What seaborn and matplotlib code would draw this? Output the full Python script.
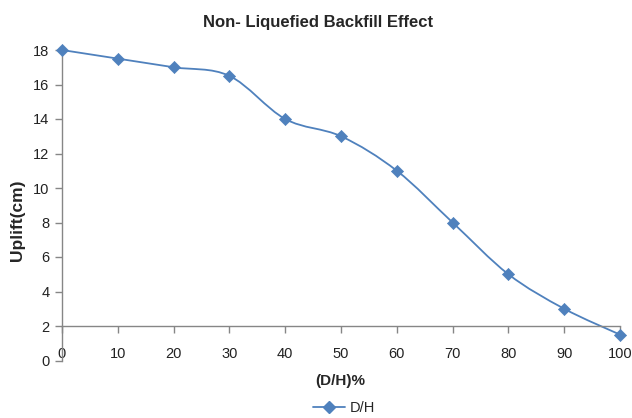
import numpy as np
import matplotlib
matplotlib.use("Agg")
import matplotlib.pyplot as plt
from matplotlib.path import Path
from matplotlib.patches import PathPatch
from matplotlib.lines import Line2D
import seaborn as sns
import pandas as pd

# Data
dh_percent = [0, 10, 20, 30, 40, 50, 60, 70, 80, 90, 100]
uplift_cm = [18, 17.5, 17, 16.5, 14, 13, 11, 8, 5, 3, 1.5]
x_ticks = [0, 10, 20, 30, 40, 50, 60, 70, 80, 90, 100]
y_ticks = [0, 2, 4, 6, 8, 10, 12, 14, 16, 18]

title = "Non- Liquefied Backfill Effect"
x_label = "(D/H)%"
y_label = "Uplift(cm)"
series_name = "D/H"

sns.set_style("white")
plt.rcParams["font.family"] = ["Liberation Sans", "DejaVu Sans"]

color = "#4F81BD"
axis_gray = "#868686"

df = pd.DataFrame({"x": dh_percent, "y": uplift_cm})

fig = plt.figure(figsize=(6.32, 4.18), dpi=100)
ax = fig.add_axes([62 / 632, 1 - 360.5 / 418, (620 - 62) / 632, (360.5 - 50) / 418])

# Smoothed connecting line (cubic Bezier segments through every point)
pts = np.column_stack([dh_percent, uplift_cm]).astype(float)
n = len(pts)
verts = [tuple(pts[0])]
codes = [Path.MOVETO]
for i in range(n - 1):
    p_prev = pts[i - 1] if i > 0 else pts[i]
    p0 = pts[i]
    p1 = pts[i + 1]
    p_next = pts[i + 2] if i + 2 < n else pts[i + 1]
    c1 = p0 + (p1 - p_prev) / 6.0
    c2 = p1 - (p_next - p0) / 6.0
    verts += [tuple(c1), tuple(c2), tuple(p1)]
    codes += [Path.CURVE4, Path.CURVE4, Path.CURVE4]
ax.add_patch(PathPatch(Path(verts, codes), facecolor="none", edgecolor=color,
                       lw=1.3, zorder=2, clip_on=False))

sns.scatterplot(data=df, x="x", y="y", marker="D", s=38, color=color,
                edgecolor=color, linewidth=0.5, ax=ax, zorder=3, clip_on=False,
                legend=False)

ax.set_xlim(0, 100)
ax.set_ylim(0, 18)
ax.set_xticks(x_ticks)
ax.set_yticks(y_ticks)

for s in ["top", "right"]:
    ax.spines[s].set_visible(False)
ax.spines["bottom"].set_position(("data", 2))
for s in ["left", "bottom"]:
    ax.spines[s].set_color(axis_gray)
    ax.spines[s].set_linewidth(1.0)

ax.tick_params(axis="both", which="major", direction="out", length=5,
               width=1.0, color=axis_gray, labelsize=10.5, labelcolor="#222222",
               bottom=True, left=True)
ax.tick_params(axis="x", pad=10)
ax.tick_params(axis="y", pad=4)

ax.set_xlabel(x_label, fontsize=11, fontweight="bold")
ax.set_ylabel(y_label, fontsize=12.5, fontweight="bold")
ax.xaxis.set_label_coords(0.499, -0.045)
ax.yaxis.label.set_verticalalignment("center")
ax.yaxis.set_label_coords((18 - 62) / 558, (360.5 - 220) / 310.5)

fig.text(318 / 632, 1 - 23 / 418, title, ha="center", va="center",
         fontsize=12, fontweight="bold")

handle = Line2D([], [], color=color, lw=1.3, marker="D", markersize=6)
fig.legend([handle], [series_name], loc="center", bbox_to_anchor=(344 / 632, 1 - 408 / 418),
           frameon=False, fontsize=10.5, handlelength=2.2, handletextpad=0.3)

fig.savefig("out.png", dpi=100, facecolor="white")
